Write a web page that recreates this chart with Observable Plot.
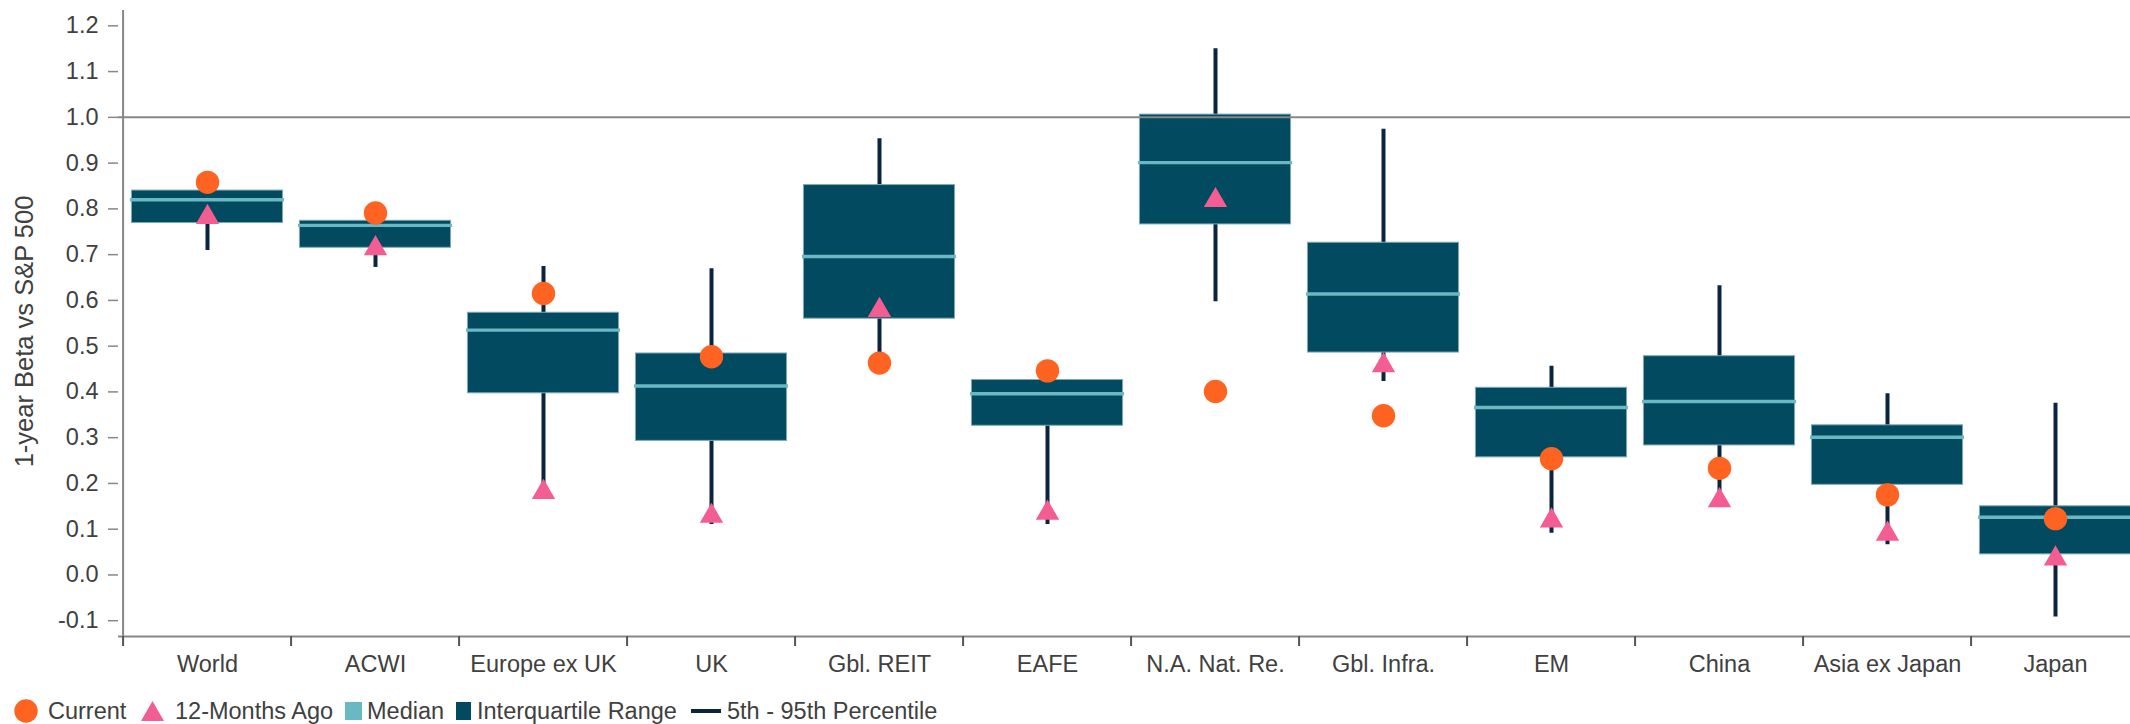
<!DOCTYPE html>
<html>
<head>
<meta charset="utf-8">
<script src="https://cdn.jsdelivr.net/npm/d3@7"></script>
<script src="https://cdn.jsdelivr.net/npm/@observablehq/plot@0.6"></script>
<style>
  html, body { margin: 0; padding: 0; background: white; overflow: hidden; }
  #wrap { width: 2130px; height: 724px; position: relative; font-family: "Liberation Sans", Arial, sans-serif; color: #404040; }
  #legend { position: relative; height: 42px; font-size: 23.5px; }
  #legend .item { position: absolute; top: 0; height: 42px; display: flex; align-items: center; white-space: nowrap; }
</style>
</head>
<body>
<div id="wrap">
  <div id="chart"></div>
  <div id="legend"></div>
</div>
<script>
// ---- data ----
const categories = ["World", "ACWI", "Europe ex UK", "UK", "Gbl. REIT", "EAFE", "N.A. Nat. Re.", "Gbl. Infra.", "EM", "China", "Asia ex Japan", "Japan"];
const p5        = [0.709, 0.672, 0.190, 0.110, 0.470, 0.110, 0.597, 0.423, 0.091, 0.180, 0.066, -0.092];
const q1        = [0.769, 0.715, 0.397, 0.293, 0.560, 0.326, 0.766, 0.486, 0.257, 0.283, 0.197, 0.045];
const median    = [0.820, 0.764, 0.535, 0.413, 0.696, 0.396, 0.901, 0.614, 0.366, 0.379, 0.301, 0.126];
const q3        = [0.840, 0.774, 0.573, 0.484, 0.852, 0.426, 1.006, 0.726, 0.409, 0.478, 0.327, 0.150];
const p95       = [0.835, 0.770, 0.674, 0.669, 0.953, 0.420, 1.150, 0.974, 0.456, 0.632, 0.396, 0.375];
const current   = [0.858, 0.791, 0.615, 0.477, 0.463, 0.446, 0.401, 0.348, 0.254, 0.233, 0.175, 0.123];
const ago12     = [0.789, 0.721, 0.188, 0.136, 0.586, 0.143, 0.826, 0.465, 0.126, 0.170, 0.097, 0.043];
const yTicks    = [-0.1, 0.0, 0.1, 0.2, 0.3, 0.4, 0.5, 0.6, 0.7, 0.8, 0.9, 1.0, 1.1, 1.2];
const legendLabels = ["Current", "12-Months Ago", "Median", "Interquartile Range", "5th - 95th Percentile"];

// ---- styles ----
const C = {
  box: "#014a5f", boxEdge: "#7fa8b8", median: "#69b8c4", whisker: "#0b2440",
  current: "#ff6321", ago: "#f45d92", axis: "#878787", text: "#404040"
};

const rows = categories.map((c, i) => ({
  category: c, p5: p5[i], q1: q1[i], median: median[i], q3: q3[i], p95: p95[i],
  current: current[i], ago: ago12[i]
}));

const W = 2130, H = 690, mL = 118, mR = -14, mT = 10, mB = 54;
const yDomain = [-0.1345, 1.2335];
const step = (W - mR - mL) / categories.length;
const fs = 23.5;

const chart = Plot.plot({
  width: W, height: H,
  marginLeft: mL, marginRight: mR, marginTop: mT, marginBottom: mB,
  style: { fontFamily: "'Liberation Sans', Arial, sans-serif", fontSize: fs + "px", color: C.text, background: "white" },
  x: { domain: categories, padding: 0, label: null },
  y: { domain: yDomain, label: null },
  marks: [
    // whiskers
    Plot.ruleX(rows, { x: "category", y1: "p5", y2: "p95", stroke: C.whisker, strokeWidth: 4 }),
    // interquartile boxes
    Plot.barY(rows, { x: "category", y1: "q1", y2: "q3", fill: C.box, stroke: C.boxEdge, strokeWidth: 1,
      insetLeft: step * 0.05, insetRight: step * 0.05 }),
    // medians
    Plot.tickY(rows, { x: "category", y: "median", stroke: C.median, strokeWidth: 3.4,
      insetLeft: step * 0.05 - 1.5, insetRight: step * 0.05 - 1.5 }),
    // reference line at 1.0
    Plot.ruleY([1], { stroke: C.axis, strokeWidth: 2 }),
    // axes lines
    Plot.ruleY([yDomain[0]], { stroke: C.axis, strokeWidth: 2 }),
    Plot.ruleX([categories[0]], { stroke: C.axis, strokeWidth: 2, dx: -step / 2 }),
    // markers
    Plot.dot(rows, { x: "category", y: "ago", symbol: "triangle", r: 8.66, fill: C.ago, stroke: "none", dy: 3.4 }),
    Plot.dot(rows, { x: "category", y: "current", symbol: "circle", r: 11.7, fill: C.current, stroke: "none" }),
    // y axis
    Plot.axisY({ ticks: yTicks, tickFormat: d => d.toFixed(1), tickSize: 10, tickPadding: 10,
      stroke: C.axis, strokeWidth: 1.5, fontSize: fs, label: null }),
    // x axis: boundary ticks and centered labels
    Plot.axisX({ tickSize: 10, tickFormat: () => "", dx: -step / 2, stroke: "#555", strokeWidth: 2, label: null }),
    Plot.axisX({ tickSize: 0, tickPadding: 19, fontSize: fs, label: null }),
    // y axis title
    Plot.text(["1-year Beta vs S&P 500"], { frameAnchor: "left", dx: -94, dy: 8, rotate: -90,
      textAnchor: "middle", fontSize: 25.5, fill: C.text })
  ]
});
document.getElementById("chart").appendChild(chart);

// ---- legend ----
const legend = document.getElementById("legend");
const swatches = [
  { left: 14, gap: 10, html: `<svg width="24" height="24"><circle cx="12" cy="12" r="11.7" fill="${C.current}"/></svg>` },
  { left: 141, gap: 11, html: `<svg width="23" height="20"><polygon points="11.5,0 23,20 0,20" fill="${C.ago}"/></svg>` },
  { left: 345, gap: 5, html: `<div style="width:17px;height:18px;background:${C.median}"></div>` },
  { left: 456, gap: 6, html: `<div style="width:15px;height:18px;background:${C.box}"></div>` },
  { left: 691, gap: 6, html: `<div style="width:30px;height:4px;background:${C.whisker}"></div>` }
];
swatches.forEach((s, i) => {
  const it = document.createElement("div");
  it.className = "item";
  it.style.left = s.left + "px";
  it.innerHTML = s.html + `<span style="margin-left:${s.gap}px">${legendLabels[i]}</span>`;
  legend.appendChild(it);
});
</script>
</body>
</html>
